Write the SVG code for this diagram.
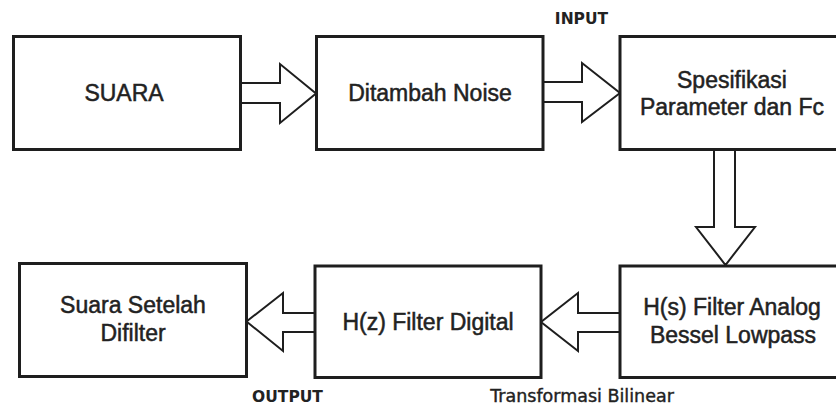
<svg xmlns="http://www.w3.org/2000/svg" width="836" height="408" viewBox="0 0 836 408">
<style>
.box{fill:#fff;stroke:#1e1e1e;stroke-width:3}
.arr{fill:#fff;stroke:#1e1e1e;stroke-width:2;stroke-linejoin:miter}
.t{font-family:"Liberation Sans",Arial,sans-serif;font-size:23px;fill:#222;text-anchor:middle;stroke:#222;stroke-width:0.5}
.lbl{font-family:"DejaVu Sans",Verdana,sans-serif;font-size:15.5px;font-weight:bold;fill:#222;text-anchor:middle}
.lbl2{font-family:"DejaVu Sans",Verdana,sans-serif;font-size:17.5px;fill:#222;text-anchor:middle;stroke:#222;stroke-width:0.4}
</style>
<rect width="836" height="408" fill="#fff"/>
<g id="connectors">
<polygon class="arr" points="240.5,83 280,83 280,64 316,93.5 280,123 280,103 240.5,103"/>
<polygon class="arr" points="543,82 582,82 582,63 620,93 582,122 582,102 543,102"/>
<polygon class="arr" points="714,150 714,227 696,227 725.5,265 755,227 735,227 735,150"/>
<polygon class="arr" points="620,313 578,313 578,293 541,322 578,351 578,332 620,332"/>
<polygon class="arr" points="315,313 283,313 283,293 246.5,321.5 283,351 283,332 315,332"/>
</g>
<g id="suara">
<rect class="box" x="13.5" y="36.5" width="227" height="113"/>
<text class="t" x="124" y="101">SUARA</text>
</g>
<g id="noise">
<rect class="box" x="316.5" y="36.5" width="226.5" height="113"/>
<text class="t" x="430" y="101">Ditambah Noise</text>
</g>
<g id="spesifikasi">
<rect class="box" x="620" y="36.5" width="227" height="113"/>
<text class="t" x="732" y="88">Spesifikasi</text>
<text class="t" x="732" y="115">Parameter dan Fc</text>
</g>
<g id="suara-setelah">
<rect class="box" x="19.5" y="263.5" width="227" height="113"/>
<text class="t" x="133" y="313">Suara Setelah</text>
<text class="t" x="133" y="341">Difilter</text>
</g>
<g id="hz">
<rect class="box" x="315" y="266" width="226" height="111.5"/>
<text class="t" x="428" y="330">H(z) Filter Digital</text>
</g>
<g id="hs">
<rect class="box" x="620" y="266" width="227" height="111.5"/>
<text class="t" x="732" y="315">H(s) Filter Analog</text>
<text class="t" x="733" y="343">Bessel Lowpass</text>
</g>
<g id="labels">
<text class="lbl" x="581.5" y="24">INPUT</text>
<text class="lbl" x="287.5" y="402">OUTPUT</text>
<text class="lbl2" x="582" y="402">Transformasi Bilinear</text>
</g>
</svg>
